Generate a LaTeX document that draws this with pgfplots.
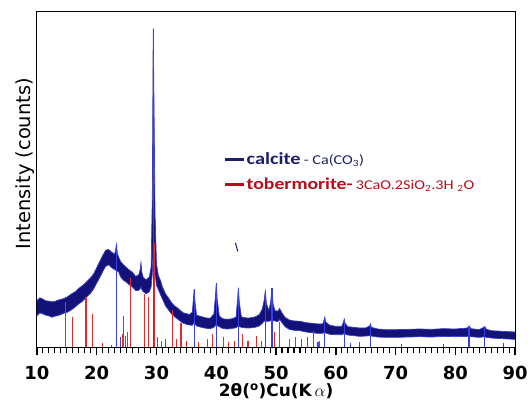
\documentclass[border=0pt]{standalone}
\usepackage{pgfplots}
\pgfplotsset{compat=1.18}
\usepgfplotslibrary{fillbetween}
\usepackage{fontspec}
\setmainfont{DejaVu Sans}
\newfontfamily\carlito[FakeStretch=1.2]{Carlito}
\definecolor{navy}{RGB}{18,18,120}
\definecolor{halo}{RGB}{60,60,195}
\definecolor{stickblue}{RGB}{55,65,235}
\definecolor{stickred}{RGB}{235,40,40}
\definecolor{legnavy}{RGB}{30,30,110}
\definecolor{legred}{RGB}{180,15,25}

\pgfplotstableread{
x lo hi
10.0 9.5 14.0
10.5 10.3 14.8
11.0 10.0 14.4
11.5 9.6 13.9
12.0 9.4 13.8
12.5 9.0 13.6
13.0 9.3 13.7
13.5 9.5 14.1
14.0 9.8 14.3
14.5 10.2 14.6
15.0 10.4 15.0
15.5 10.9 15.6
16.0 11.5 16.2
16.5 12.2 16.7
17.0 13.0 17.6
17.5 13.6 18.3
18.0 14.5 19.0
18.5 15.4 19.9
19.0 16.2 20.8
19.5 17.5 22.0
20.0 19.2 23.8
20.5 20.8 25.6
21.0 22.6 27.4
21.5 24.2 29.0
22.0 24.6 29.2
22.5 23.8 28.4
23.0 23.2 27.8
23.15 23.0 29.0
23.3 23.0 30.7
23.45 22.8 28.0
23.7 22.4 26.8
24.0 21.0 25.6
24.5 20.0 24.6
25.0 19.4 23.8
25.5 18.6 23.0
26.0 18.0 22.4
26.5 17.0 21.2
27.0 17.0 21.6
27.25 17.5 23.0
27.4 18.0 25.3
27.55 17.2 22.4
27.8 16.6 20.8
28.3 16.0 20.2
28.8 16.6 21.0
29.1 18.0 24.0
29.3 22.0 45.0
29.45 30.0 95.0
29.6 30.0 70.0
29.75 22.0 40.0
30.0 18.5 25.0
30.3 17.3 21.5
30.7 15.6 19.8
31.0 14.4 18.0
31.5 12.4 16.0
32.0 11.2 14.8
32.5 10.0 13.4
33.0 9.2 12.4
33.5 8.5 11.8
34.0 7.8 11.0
34.5 7.2 10.3
35.0 6.9 10.1
35.5 6.7 9.8
36.0 6.6 10.5
36.15 7.0 14.0
36.3 7.5 17.3
36.45 7.0 13.5
36.7 6.4 9.6
37.5 6.0 9.2
38.3 5.7 8.8
39.0 5.6 8.7
39.6 6.0 10.0
39.85 6.5 15.0
40.0 7.0 19.2
40.15 6.5 14.5
40.5 6.2 9.4
41.0 5.7 8.6
41.7 5.5 8.4
42.5 5.6 8.5
43.3 5.9 9.0
43.55 6.2 14.0
43.7 6.6 17.8
43.85 6.2 13.5
44.2 6.0 9.1
45.0 5.8 8.8
45.6 5.8 8.8
46.5 6.0 9.1
47.2 6.4 9.8
47.7 7.2 11.5
48.0 7.8 14.0
48.2 8.0 16.8
48.4 7.8 13.0
48.8 7.8 11.0
49.1 8.0 13.5
49.3 8.2 17.6
49.5 8.0 13.0
49.8 7.9 11.0
50.3 7.7 10.8
50.6 8.3 11.6
51.0 7.4 10.3
51.5 6.2 9.0
52.2 5.4 8.2
53.0 5.1 7.9
54.0 5.0 7.8
55.0 4.6 7.4
56.0 4.4 7.2
57.0 4.2 7.0
57.8 4.2 7.0
58.0 4.4 8.0
58.15 4.6 9.0
58.3 4.3 7.6
59.0 3.9 6.6
60.0 3.8 6.3
61.0 3.8 6.3
61.25 4.0 7.4
61.4 4.2 8.4
61.55 4.0 7.2
62.0 3.7 6.2
63.0 3.5 6.0
64.0 3.3 5.8
65.0 3.4 5.8
65.65 3.5 6.4
65.8 3.6 7.0
65.95 3.4 6.0
67.0 3.1 5.5
68.4 3.0 5.3
70.0 3.0 5.3
72.0 3.1 5.4
74.0 3.2 5.5
76.0 3.1 5.4
78.0 3.3 5.6
80.0 3.2 5.5
82.0 3.3 5.8
82.3 3.4 6.4
82.6 3.2 5.6
84.0 3.0 5.3
84.9 3.2 6.2
85.2 3.0 5.4
86.0 2.8 5.0
88.0 2.6 4.8
90.0 2.4 4.6
}\band

\pgfplotstableread{
x y
23.3 30.7
29.45 95
36.3 17.3
40.0 19.2
43.7 17.8
48.2 16.8
49.3 17.6
58.15 9.0
61.4 8.4
65.8 7.0
82.3 6.4
84.9 6.2
24.0 3.0
31.5 1.5
57.0 1.5
62.5 1.2
64.0 1.5
71.0 1.0
78.0 1.0
88.0 1.2
}\calcite

\pgfplotstableread{
x y
14.8 13.4
16.0 9.2
18.2 15.0
19.3 10.0
21.0 1.2
22.5 0.8
24.3 4.0
24.5 9.3
24.8 3.5
25.1 4.5
25.6 20.8
28.0 15.8
28.7 15.0
29.7 31.0
30.2 3.0
30.8 2.0
31.5 2.5
32.7 11.3
33.3 2.5
34.1 7.4
35.0 2.0
37.0 1.5
38.5 2.5
39.3 4.0
41.2 3.0
42.0 1.5
43.0 2.0
44.4 4.0
45.3 2.0
46.8 3.5
47.5 2.0
49.8 4.5
50.6 7.7
52.3 2.5
53.3 3.0
54.3 2.5
55.2 3.0
56.3 4.8
57.2 2.0
}\tober

\begin{document}
\begin{tikzpicture}[x=1pt,y=1pt]
\path (0,0) rectangle (531,401);
\begin{axis}[
  at={(37pt,53pt)}, anchor=south west,
  scale only axis, width=479pt, height=336pt,
  xmin=10, xmax=90, ymin=0, ymax=100,
  axis line style={black, line width=1pt},
  xtick={10,20,...,90}, minor x tick num=9,
  xtick pos=bottom, ytick=\empty,
  tick align=outside,
  major tick length=8pt, minor tick length=6pt,
  every tick/.style={black, line width=1.4pt},
  minor tick style={black, line width=1.1pt},
  /pgf/number format/assume math mode=true,
  xticklabel style={font=\bfseries\fontsize{18}{18}\selectfont, anchor=base, yshift=-24pt},
  xlabel={\bfseries 2θ(\textsuperscript{o})Cu(K\,$\alpha$)},
  xlabel style={font=\bfseries\fontsize{17}{17}\selectfont, at={(axis description cs:0.5,0)}, anchor=base, yshift=-49pt},
  ylabel={Intensity (counts)},
  ylabel style={font=\fontsize{19.5}{19.5}\selectfont, at={(axis description cs:-0.025,0.548)}, anchor=center},
  legend style={at={(axis description cs:0.390,0.585)}, anchor=north west, draw=none, fill=none, inner sep=0pt, row sep=10pt, nodes={inner sep=1pt}},
  legend cell align=left,
  legend image code/.code={\draw[#1] (0pt,0pt) -- (19pt,0pt);},
]
\addplot[name path=lo, draw=halo, line width=0.7pt, forget plot] table[x=x, y=lo] {\band};
\addplot[name path=hi, draw=halo, line width=0.7pt, forget plot] table[x=x, y=hi] {\band};
\addplot[navy, forget plot] fill between[of=hi and lo];
\addplot[stickred, line width=1.1pt, ycomb, forget plot] table[x=x, y=y] {\tober};
\addplot[stickblue, line width=1.3pt, ycomb, forget plot] table[x=x, y=y] {\calcite};
\addplot[navy, line width=1pt, forget plot] coordinates {(43.2,31.2) (43.6,28.6)};
\addlegendimage{legnavy, line width=3pt}
\addlegendentry{{\carlito\bfseries\fontsize{17}{17}\selectfont\color{legnavy}calcite} {\carlito\fontsize{13.5}{13.5}\selectfont\color{legnavy}- Ca(CO\textsubscript{3})}}
\addlegendimage{legred, line width=3pt}
\addlegendentry{{\carlito\bfseries\fontsize{16.5}{16.5}\selectfont\color{legred}tobermorite-} {\carlito\fontsize{13.5}{13.5}\selectfont\color{legred}3CaO.2SiO\textsubscript{2}.3H \textsubscript{2}O}}
\end{axis}
\end{tikzpicture}
\end{document}
